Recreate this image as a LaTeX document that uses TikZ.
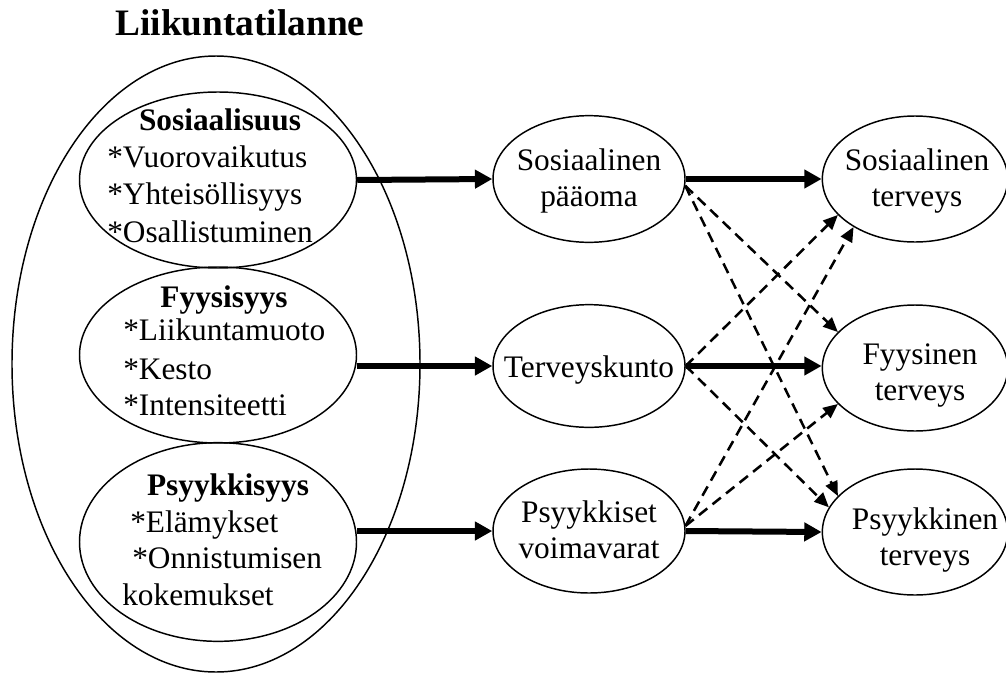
\documentclass[tikz,border=0pt]{standalone}
\usepackage{fontspec}
\setmainfont{Liberation Serif}
\usetikzlibrary{shapes.geometric,arrows.meta}

\tikzset{
  oval/.style={draw, ellipse, line width=1.1pt, inner sep=0pt},
  txt/.style={inner sep=0pt, font=\fontsize{23.5}{27}\selectfont},
  head/.style={inner sep=0pt, font=\fontsize{23.5}{27}\selectfont\bfseries},
  link/.style={line width=4.5pt, -{Triangle[length=13pt,width=13.5pt]}},
  cross/.style={line width=1.9pt, dash pattern=on 8pt off 5pt, -{Triangle[length=11pt,width=9.5pt]}},
}

\begin{document}
\begin{tikzpicture}[x=0.75pt, y=-0.75pt]
  \useasboundingbox (0,0) rectangle (1006,675);

  % Title and outer situation
  \node[inner sep=0pt, font=\fontsize{28}{32}\selectfont\bfseries, anchor=base] (title) at (240,35) {Liikuntatilanne};
  \node[oval, minimum width=306pt, minimum height=462pt] (sit) at (216,364) {};

  % Dimensions of the situation
  \node[oval, minimum width=207.75pt, minimum height=132pt] (sos) at (218,180) {};
  \node[oval, minimum width=207.75pt, minimum height=132pt] (fys) at (218,355) {};
  \node[oval, minimum width=207.75pt, minimum height=149pt] (psy) at (218,542) {};

  \node[head, anchor=base] (sos-head) at (220,130) {Sosiaalisuus};
  \node[head, anchor=base] (fys-head) at (224,307) {Fyysisyys};
  \node[head, anchor=base] (psy-head) at (228,495) {Psyykkisyys};

  \foreach \t/\x/\y [count=\i] in {
    *Vuorovaikutus/107/167, *Yhteisöllisyys/107/204, *Osallistuminen/107/242,
    *Liikuntamuoto/123/340, *Kesto/123/379, *Intensiteetti/123/415,
    *Elämykset/130/532, *Onnistumisen/132/568, kokemukset/122/605} {
    \node[txt, anchor=base west] (item-\i) at (\x,\y) {\t};
  }

  % Resources
  \node[oval, minimum width=144pt, minimum height=95pt] (socpo) at (589,179) {};
  \node[oval, minimum width=144pt, minimum height=92pt] (tk) at (589,366) {};
  \node[oval, minimum width=144pt, minimum height=93pt] (psv) at (589,531) {};

  \node[txt, align=center] (socpo-label) at (589,181) {Sosiaalinen\\pääoma};
  \node[txt, anchor=base] (tk-label) at (589,377) {Terveyskunto};
  \node[txt, align=center] (psv-label) at (589,530) {Psyykkiset\\voimavarat};

  % Health outcomes
  \node[oval, minimum width=139pt, minimum height=94.5pt] (sot) at (915,179) {};
  \node[oval, minimum width=139pt, minimum height=94.5pt] (fyt) at (915,368) {};
  \node[oval, minimum width=139pt, minimum height=94.5pt] (pst) at (915,532) {};

  \node[txt, align=center] (sot-label) at (917,181) {Sosiaalinen\\terveys};
  \node[txt, align=center] (fyt-label) at (920,376) {Fyysinen\\terveys};
  \node[txt, align=center] (pst-label) at (925,540) {Psyykkinen\\terveys};

  % Main paths
  \draw[link] (sos.east) -- (socpo.west);
  \draw[link] (fys.east |- tk.west) -- (tk.west);
  \draw[link] (psy.east |- psv.west) -- (psv.west);
  \draw[link] (socpo.east) -- (sot.west);
  \draw[link] (tk.east) -- (tk.east -| fyt.west);
  \draw[link] (psv.east) -- (pst.west);

  % Cross effects
  \draw[cross] (socpo.-4) -- (fyt.155);
  \draw[cross] (socpo.-4) -- (pst.155);
  \draw[cross] (tk.east) -- (sot.205);
  \draw[cross] (tk.east) -- (pst.164);
  \draw[cross] (psv.3) -- (sot.218);
  \draw[cross] (psv.3) -- (fyt.205);
\end{tikzpicture}
\end{document}
